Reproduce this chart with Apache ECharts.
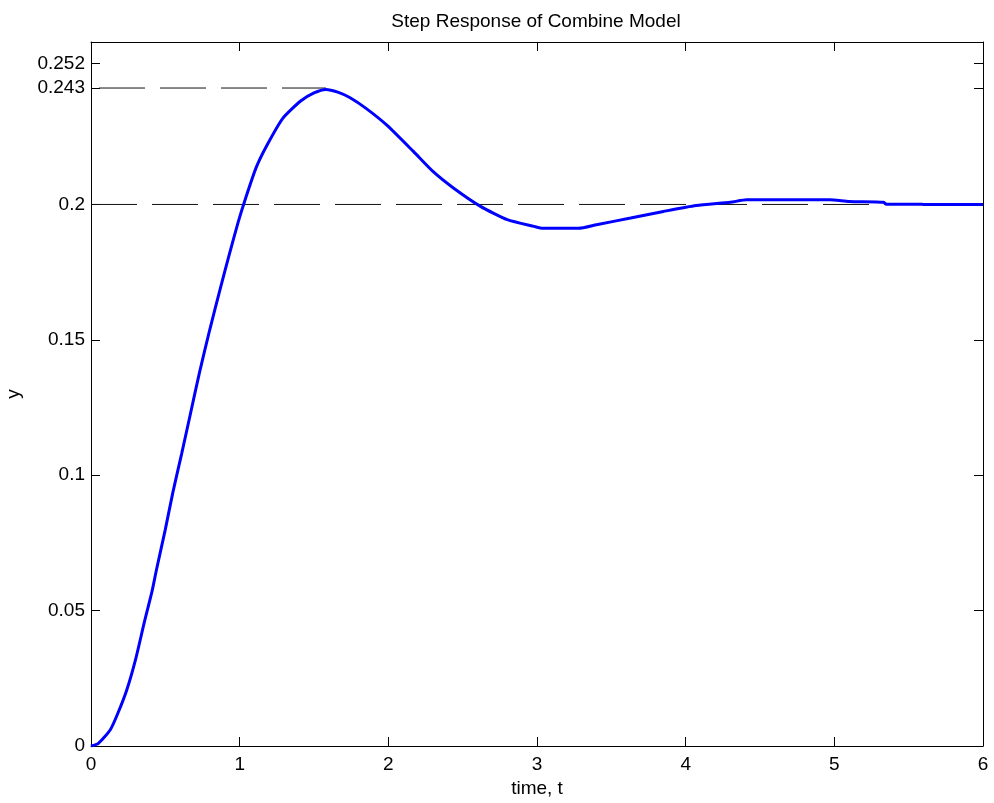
<!DOCTYPE html>
<html>
<head>
<meta charset="utf-8">
<title>Step Response of Combine Model</title>
<script src="https://cdn.jsdelivr.net/npm/echarts@6/dist/echarts.min.js"></script>
<style>
  html, body { margin: 0; padding: 0; background: #fff; }
  #step_chart { width: 994px; height: 803px; }
</style>
</head>
<body>
<div id="step_chart"></div>
<script>
// step response samples
const timeValues = [0, 0.05, 0.13, 0.18, 0.24, 0.30, 0.36, 0.41, 0.44, 0.50, 0.55, 0.61, 0.67, 0.73, 0.80, 0.87,
  0.93, 0.99, 1.04, 1.11, 1.18, 1.29, 1.41, 1.50, 1.58, 1.66, 1.74, 1.85, 1.99, 2.17, 2.30, 2.44, 2.62,
  2.80, 2.98, 3.04, 3.28, 3.40, 3.63, 3.85, 4.07, 4.30, 4.41, 4.97, 5.10, 5.33, 5.35, 5.58, 5.60, 6.0];
const responseValues = [0, 0.001, 0.006, 0.012, 0.0206, 0.032, 0.046, 0.057, 0.065, 0.080, 0.0935, 0.108, 0.123,
  0.138, 0.154, 0.169, 0.1815, 0.1935, 0.2023, 0.2135, 0.2215, 0.2318, 0.2382, 0.2412, 0.2425, 0.2415, 0.2395,
  0.2355, 0.2293, 0.2195, 0.2122, 0.206, 0.1993, 0.1944, 0.1919, 0.1912, 0.1912, 0.1925, 0.195, 0.1974,
  0.1996, 0.2008, 0.2017, 0.2017, 0.2011, 0.2008, 0.2001, 0.2001, 0.2, 0.2];

// reference levels
const peakTime = 1.58;
const peakValue = 0.243;
const finalValue = 0.2;

const yTickValues = [0, 0.05, 0.1, 0.15, 0.2, 0.243, 0.252];

const chart = echarts.init(document.getElementById('step_chart'));

const font = 'Liberation Sans, Arial, sans-serif';
const axisLine = { show: true, onZero: false, lineStyle: { color: '#000', width: 1 } };
const tick = { show: true, inside: true, length: 9, lineStyle: { color: '#000', width: 1 } };

const option = {
  backgroundColor: '#fff',
  animation: false,
  title: {
    text: 'Step Response of Combine Model',
    left: 531,
    textAlign: 'center',
    top: 7,
    textStyle: { color: '#000', fontSize: 19, fontWeight: 'normal', fontFamily: font }
  },
  grid: { left: 91, right: 11, top: 42, bottom: 57, outerBoundsMode: 'none' },
  xAxis: [
    {
      type: 'value',
      position: 'bottom',
      min: 0,
      max: 6,
      interval: 1,
      name: 'time, t',
      nameLocation: 'middle',
      nameGap: 33,
      nameTextStyle: { color: '#000', fontSize: 19, fontFamily: font },
      axisLine: axisLine,
      axisTick: tick,
      axisLabel: { color: '#000', fontSize: 19, fontFamily: font, margin: 9 },
      splitLine: { show: false }
    },
    {
      type: 'value',
      position: 'top',
      min: 0,
      max: 6,
      interval: 1,
      axisLine: axisLine,
      axisTick: tick,
      axisLabel: { show: false },
      splitLine: { show: false }
    }
  ],
  yAxis: [
    {
      type: 'value',
      position: 'left',
      min: 0,
      max: 0.26,
      name: 'y',
      nameLocation: 'middle',
      nameGap: 68,
      nameTextStyle: { color: '#000', fontSize: 19, fontFamily: font },
      axisLine: axisLine,
      axisTick: Object.assign({}, tick, { customValues: yTickValues }),
      axisLabel: { color: '#000', fontSize: 19, fontFamily: font, margin: 6, customValues: yTickValues },
      splitLine: { show: false }
    },
    {
      type: 'value',
      position: 'right',
      min: 0,
      max: 0.26,
      axisLine: axisLine,
      axisTick: Object.assign({}, tick, { customValues: yTickValues }),
      axisLabel: { show: false },
      splitLine: { show: false }
    }
  ],
  series: [
    {
      name: 'final',
      type: 'line',
      symbol: 'none',
      silent: true,
      lineStyle: { color: '#111', width: 1, type: [46, 15], dashOffset: 0 },
      data: [[0, finalValue], [6, finalValue]]
    },
    {
      name: 'peak',
      type: 'line',
      symbol: 'none',
      silent: true,
      lineStyle: { color: '#111', width: 1, type: [46, 15], dashOffset: 53 },
      data: [[0, peakValue], [peakTime, peakValue]]
    },
    {
      name: 'response',
      type: 'line',
      symbol: 'none',
      smooth: 0.2,
      lineStyle: { color: '#0000ff', width: 3 },
      data: timeValues.map((t, i) => [t, responseValues[i]])
    }
  ]
};

chart.setOption(option);
</script>
</body>
</html>
